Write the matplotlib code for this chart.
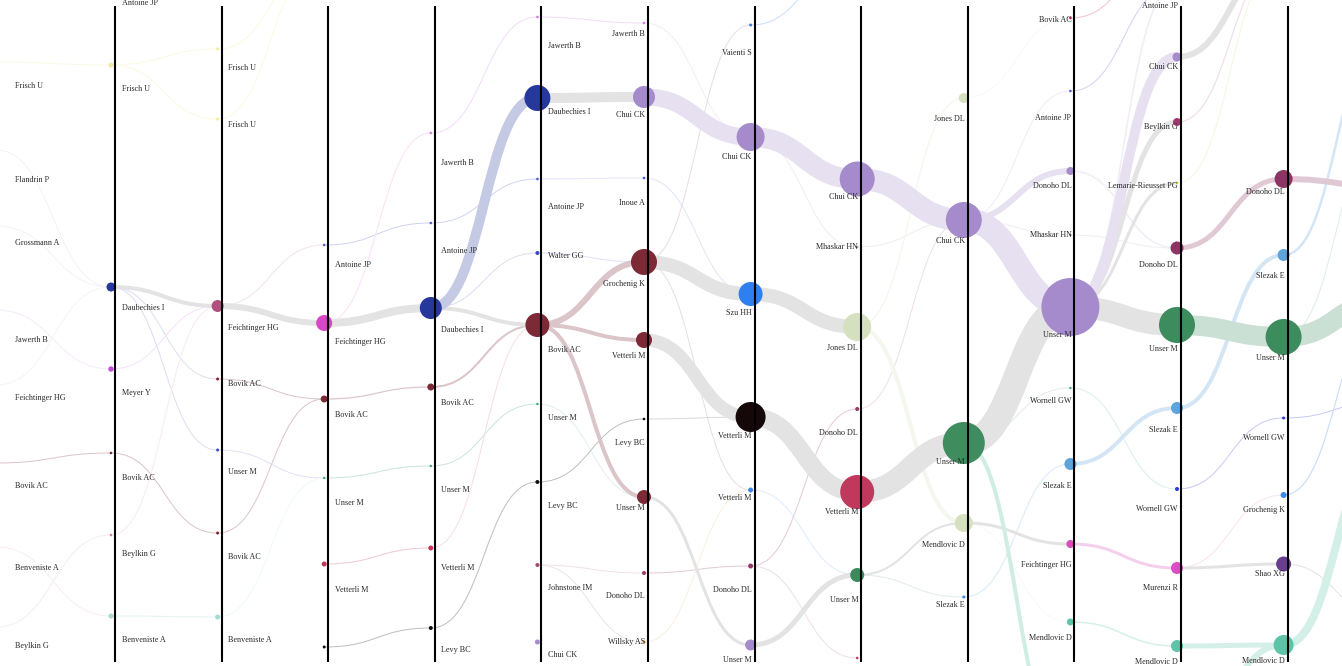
import matplotlib.pyplot as plt
from matplotlib.path import Path
from matplotlib.patches import PathPatch
from matplotlib.colors import to_rgb

# ---------------- data ----------------
# nodes per column: (author, y, radius)  -- y in pixel rows, radius in px
c0_nodes = [("Frisch U", 62, 1.5), ("Flandrin P", 150, 1.5), ("Grossmann A", 226, 1.5),
            ("Jawerth B", 310, 1.5), ("Feichtinger HG", 385, 1.5), ("Bovik AC", 463, 1.5),
            ("Benveniste A", 547, 1.5), ("Beylkin G", 627, 1.5)]
c1_nodes = [("Antoine JP", -19, 1.0), ("Frisch U", 65, 2.5), ("Daubechies I", 287, 4.5),
            ("Meyer Y", 369, 2.7), ("Bovik AC", 453, 1.3), ("Beylkin G", 535, 1.3),
            ("Benveniste A", 616, 2.5)]
c2_nodes = [("Frisch U", 49, 1.5), ("Frisch U", 119, 1.5), ("Feichtinger HG", 306, 6),
            ("Bovik AC", 379, 1.5), ("Unser M", 450, 1.5), ("Bovik AC", 533, 1.5),
            ("Benveniste A", 617, 2.5)]
c3_nodes = [("", -40, 1.0), ("Antoine JP", 245, 1.3), ("Feichtinger HG", 323, 8),
            ("Bovik AC", 399, 3.5), ("Unser M", 478, 1.2), ("Vetterli M", 564, 2.5),
            ("Levy BC", 647, 1.5)]
c4_nodes = [("Jawerth B", 133, 1.3), ("Antoine JP", 223, 1.3), ("Daubechies I", 308, 11),
            ("Bovik AC", 387, 3.5), ("Unser M", 466, 1.2), ("Vetterli M", 548, 2.5),
            ("Levy BC", 628, 2)]
c5_nodes = [("Jawerth B", 17, 1.3), ("Daubechies I", 98, 13), ("Antoine JP", 179, 1.3),
            ("Walter GG", 253, 2), ("Bovik AC", 325, 12), ("Unser M", 404, 1.2),
            ("Levy BC", 482, 2), ("Johnstone IM", 565, 2), ("Chui CK", 642, 2.5)]
c6_nodes = [("Jawerth B", 23, 1.3), ("Chui CK", 97, 11), ("Inoue A", 178, 1.3),
            ("Grochenig K", 262, 13), ("Vetterli M", 340, 8), ("Levy BC", 419, 1.3),
            ("Unser M", 497, 7), ("Donoho DL", 573, 2), ("Willsky AS", 642, 1.5)]
c7_nodes = [("Vaienti S", 25, 1.5), ("Chui CK", 137, 14), ("Szu HH", 294, 12),
            ("Vetterli M", 417, 15), ("Vetterli M", 490, 2.5), ("Donoho DL", 566, 2.5),
            ("Unser M", 645, 5.5)]
c8_nodes = [("", -40, 1.0), ("Chui CK", 179, 17.5), ("Mhaskar HN", 247, 1.2),
            ("Jones DL", 327, 14), ("Donoho DL", 409, 2), ("Vetterli M", 492, 17),
            ("Unser M", 575, 7), ("", 658, 1.3)]
c9_nodes = [("Jones DL", 98, 5), ("Chui CK", 220, 18), ("Unser M", 443, 21),
            ("Mendlovic D", 523, 9), ("Slezak E", 597, 1.5)]
c10_nodes = [("Bovik AC", 18, 1.3), ("Antoine JP", 91, 1.3), ("Donoho DL", 171, 4),
             ("Mhaskar HN", 235, 1.2), ("Unser M", 307, 29), ("Wornell GW", 388, 1.2),
             ("Slezak E", 464, 6), ("Feichtinger HG", 544, 4), ("Mendlovic D", 622, 3.5),
             ("", 760, 3)]
c11_nodes = [("Antoine JP", -16, 1.3), ("Chui CK", 57, 4.5), ("Beylkin G", 122, 4),
             ("Lemarie-Rieusset PG", 183, 1.3), ("Donoho DL", 248, 6.5), ("Unser M", 325, 18),
             ("Slezak E", 408, 6), ("Wornell GW", 489, 2), ("Murenzi R", 568, 6),
             ("Mendlovic D", 646, 6), ("", 740, 3), ("", -50, 1.0)]
c12_nodes = [("", -40, 1.0), ("Donoho DL", 179, 9), ("Slezak E", 255, 6),
             ("Unser M", 337, 18), ("Wornell GW", 418, 1.5), ("Grochenig K", 495, 3),
             ("Shao XG", 564, 7.5), ("Mendlovic D", 645, 10)]
c13_nodes = [("", 25, 2), ("", 187, 9), ("Resnikoff HL", 205, 2), ("", 300, 18),
             ("", 400, 1.5), ("", 300, 3), ("", 620, 7), ("", 440, 10), ("", 120, 1)]

# flows between neighbouring columns: (source index, target index, width px)
e0 = [(0, 1, 1), (1, 2, 1), (2, 2, 1), (3, 3, 1), (4, 2, 1), (5, 4, 1), (6, 6, 1), (7, 5, 1)]
e1 = [(1, 0, 1), (1, 1, 1), (2, 2, 4), (2, 3, 1), (2, 4, 1), (3, 2, 1), (5, 2, 1),
      (4, 5, 1), (6, 6, 1.2)]
e2 = [(0, 0, 1), (1, 0, 1), (2, 2, 6), (2, 1, 1), (3, 3, 1), (5, 3, 1), (4, 4, 1), (6, 4, 1)]
e3 = [(1, 1, 1), (2, 2, 8), (2, 0, 1), (3, 3, 1.2), (4, 4, 1), (5, 5, 1), (6, 6, 1)]
e4 = [(0, 0, 1), (1, 2, 1), (2, 1, 10), (2, 3, 1), (2, 4, 4), (3, 4, 2), (4, 5, 1),
      (5, 4, 1), (6, 6, 1)]
e5 = [(0, 0, 1), (1, 1, 10), (2, 2, 1), (3, 3, 1), (4, 3, 6), (4, 4, 4), (4, 6, 4),
      (5, 6, 1), (6, 5, 1), (7, 7, 1), (7, 8, 1)]
e6 = [(0, 1, 1), (1, 1, 17), (2, 2, 1), (3, 0, 1), (3, 2, 14), (3, 4, 1), (4, 3, 13),
      (5, 3, 1), (6, 6, 3), (7, 5, 1), (8, 4, 1)]
e7 = [(0, 0, 1), (1, 1, 20), (1, 2, 1), (2, 3, 14), (3, 5, 18), (4, 6, 1), (5, 4, 1),
      (6, 6, 5), (5, 7, 1)]
e8 = [(1, 1, 22), (2, 1, 1), (3, 0, 1.2), (3, 3, 4), (5, 2, 22), (4, 1, 1), (6, 3, 2),
      (6, 4, 1)]
e9 = [(0, 0, 1), (1, 1, 1), (1, 2, 6), (1, 3, 1), (1, 4, 24), (2, 4, 26), (2, 5, 1),
      (2, 9, 4), (3, 7, 3), (3, 8, 1), (4, 6, 1.2)]
e10 = [(1, 0, 1), (2, 4, 1.5), (3, 4, 1), (4, 5, 22), (4, 1, 10), (4, 2, 5), (4, 3, 3),
       (4, 0, 1.5), (5, 7, 1.2), (6, 6, 4), (7, 8, 3), (8, 9, 1.5), (9, 10, 4), (0, 11, 1)]
e11 = [(1, 0, 6), (2, 0, 1.2), (3, 0, 1), (4, 1, 5), (5, 3, 20), (6, 2, 4), (7, 4, 1),
       (8, 6, 3), (8, 5, 1), (9, 7, 5), (10, 7, 6)]
e12 = [(2, 0, 2.5), (1, 1, 6), (3, 3, 20), (3, 8, 1), (4, 4, 1), (5, 5, 1.2), (6, 6, 1),
       (7, 7, 8)]

# ---------------- styling ----------------
c0_colors = ["#f1ec9f", "#b8b0e0", "#b8b0e0", "#d080e0", "#c0b8e0", "#7b2a36", "#d090b0", "#d090b0"]
c1_colors = ["#5060d0", "#f1ec9f", "#26399a", "#c94ae0", "#7b2a36", "#d080a0", "#a7dad6"]
c2_colors = ["#f1ec9f", "#f1ec9f", "#b0507e", "#7b2a36", "#3a4ab8", "#7b2a36", "#a7dad6"]
c3_colors = ["#f1ec9f", "#5060d0", "#d946c8", "#7b2a36", "#40a080", "#c0385c", "#111111"]
c4_colors = ["#d080e0", "#5060d0", "#26399a", "#7b2a36", "#40a080", "#c0385c", "#111111"]
c5_colors = ["#d080e0", "#26399a", "#5060d0", "#3a4ac0", "#7b2a36", "#40a080", "#111111",
             "#a04870", "#a68bcc"]
c6_colors = ["#d080e0", "#a68bcc", "#4a5ad0", "#7b2a36", "#7b2a36", "#111111", "#7b2a36",
             "#9a3a6a", "#e0a040"]
c7_colors = ["#3a80e8", "#a68bcc", "#2e7fef", "#140808", "#3a8af0", "#9a3a6a", "#a68bcc"]
c8_colors = ["#3a80e8", "#a68bcc", "#999999", "#d4e0bf", "#9a3a6a", "#c0385c", "#3e8a5c", "#c0385c"]
c9_colors = ["#d4e0bf", "#a68bcc", "#3f8d5f", "#d4e0bf", "#3a88e8"]
c10_colors = ["#d02040", "#5060d0", "#a68bcc", "#999999", "#a68bcc", "#40b090", "#5ea3d9",
              "#d94ec0", "#5ec4a8", "#5ec4a8"]
c11_colors = ["#5060d0", "#a68bcc", "#a0386e", "#c8d040", "#8c3565", "#3c8c5e", "#5ea3d9",
              "#2f3bd8", "#d94ec0", "#5ec4a8", "#5ec4a8", "#d02040"]
c12_colors = ["#999999", "#8c3565", "#5ea3d9", "#3c8c5e", "#2f3bd8", "#3a88e8", "#6a3d8d", "#5ec4a8"]
c13_colors = ["#5ea3d9", "#8c3565", "#999999", "#3c8c5e", "#2f3bd8", "#3a88e8", "#999999",
              "#5ec4a8", "#999999"]

# label offset below node centre (px)
c0_dy = [24, 30, 17, 30, 13, 23, 21, 19]
c1_dy = [22, 24, 21, 24, 25, 19, 24]
c2_dy = [19, 6, 22, 5, 22, 24, 23]
c3_dy = [0, 20, 19, 16, 25, 26, 40]
c4_dy = [30, 28, 22, 16, 24, 20, 22]
c5_dy = [29, 14, 28, 3, 25, 14, 24, 23, 13]
c6_dy = [11, 18, 25, 22, 16, 24, 11, 23, 0]
c7_dy = [28, 20, 19, 19, 8, 24, 15]
c8_dy = [0, 18, 0, 21, 24, 20, 25, 0]
c9_dy = [21, 21, 19, 22, 8]
c10_dy = [2, 27, 15, 0, 28, 13, 22, 21, 16, 0]
c11_dy = [22, 10, 5, 3, 17, 24, 22, 20, 20, 16, 0, 0]
c12_dy = [0, 13, 21, 21, 20, 15, 10, 16]
c13_dy = [0, 0, 20, 0, 0, 0, 0, 0, 0]

EDGE_TINT = {(9, 2, 9): "#5ec4a8"}   # teal flow leaving Unser M downwards

NODES = [c0_nodes, c1_nodes, c2_nodes, c3_nodes, c4_nodes, c5_nodes, c6_nodes,
         c7_nodes, c8_nodes, c9_nodes, c10_nodes, c11_nodes, c12_nodes, c13_nodes]
COLORS = [c0_colors, c1_colors, c2_colors, c3_colors, c4_colors, c5_colors, c6_colors,
          c7_colors, c8_colors, c9_colors, c10_colors, c11_colors, c12_colors, c13_colors]
DY = [c0_dy, c1_dy, c2_dy, c3_dy, c4_dy, c5_dy, c6_dy, c7_dy, c8_dy, c9_dy,
      c10_dy, c11_dy, c12_dy, c13_dy]
EDGES = [e0, e1, e2, e3, e4, e5, e6, e7, e8, e9, e10, e11, e12]

W, H = 1342, 666
PX = 72 / 100  # pixel -> points at 100 dpi


def line_x(k):
    return 8.4 + 106.6 * k


def node_x(k):
    return line_x(k) - 4 if k > 0 else -4


def tint(c, a):
    r, g, b = to_rgb(c)
    return (1 - a + a * r, 1 - a + a * g, 1 - a + a * b)


fig = plt.figure(figsize=(W / 100, H / 100), dpi=100)
ax = fig.add_axes([0, 0, 1, 1])
ax.set_xlim(0, W)
ax.set_ylim(H, 0)
ax.axis("off")

# flows, thin ones first
flows = []
for k, edges in enumerate(EDGES):
    for s, d, w in edges:
        flows.append((w, k, s, d))
flows.sort()
for w, k, s, d in flows:
    x0, x1 = node_x(k), node_x(k + 1)
    y0, y1 = NODES[k][s][1], NODES[k + 1][d][1]
    cs, cd = COLORS[k][s], COLORS[k + 1][d]
    if (k, s, d) in EDGE_TINT:
        col = tint(EDGE_TINT[(k, s, d)], 0.3)
    elif cs == cd:
        col = tint(cs, 0.27)
    elif w < 2:
        col = tint(cs, 0.16)
    else:
        col = "#e3e3e3"
    xm = (x0 + x1) / 2
    p = Path([(x0, y0), (xm, y0), (xm, y1), (x1, y1)],
             [Path.MOVETO, Path.CURVE4, Path.CURVE4, Path.CURVE4])
    ax.add_patch(PathPatch(p, fill=False, lw=w * PX, edgecolor=col,
                           capstyle="butt", zorder=1))

# nodes and labels
for k, nodes in enumerate(NODES):
    xs = [node_x(k)] * len(nodes)
    ys = [n[1] for n in nodes]
    ss = [(2 * n[2] * PX) ** 2 for n in nodes]
    ax.scatter(xs, ys, s=ss, c=COLORS[k], linewidths=0, zorder=2)
    for (name, y, r), dy in zip(nodes, DY[k]):
        if not name:
            continue
        if k == 0:
            ax.text(15, y + dy, name, ha="left", va="center", fontsize=5.9,
                    family="Liberation Serif", color="#2a2a2a", zorder=4)
        elif k <= 5:
            ax.text(line_x(k) + 6.5, y + dy, name, ha="left", va="center",
                    fontsize=5.9, family="Liberation Serif", color="#2a2a2a", zorder=4)
        else:
            ax.text(node_x(k) + 1, y + dy, name, ha="right", va="center",
                    fontsize=5.9, family="Liberation Serif", color="#2a2a2a", zorder=4)

# year separators
ax.vlines([line_x(k) for k in range(1, 13)], 6, 662, color="black", lw=1.5, zorder=3)

fig.savefig("out.png", dpi=100, facecolor="white")
